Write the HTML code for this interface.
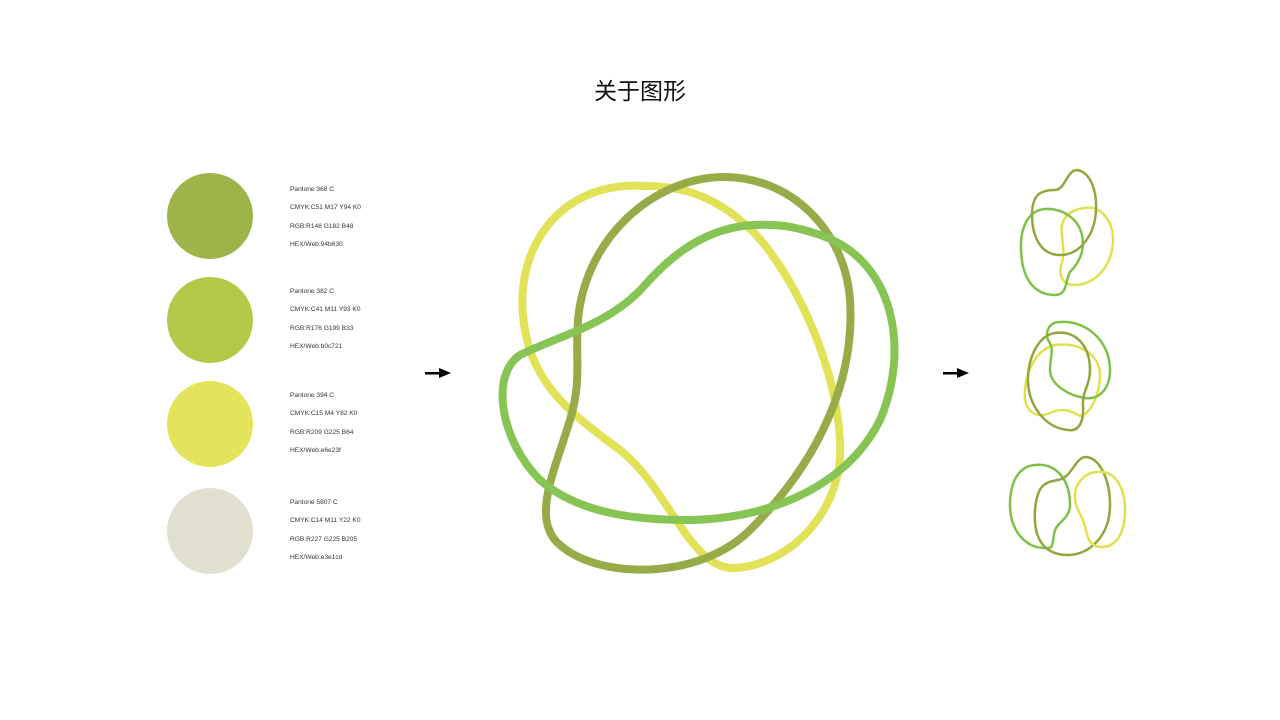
<!DOCTYPE html>
<html><head><meta charset="utf-8"><style>
body{margin:0;width:1280px;height:720px;background:#fff;overflow:hidden;position:relative;font-family:"Liberation Sans","Noto Sans CJK SC",sans-serif}
.t{position:absolute;left:0;width:1280px;top:72px;text-align:center;font-size:23px;color:#111}
.c{position:absolute;left:167px;width:86px;height:86px;border-radius:50%}
.i{position:absolute;left:290px;font-size:6.6px;color:#333;line-height:18.3px}
</style></head><body>
<div class="t">关于图形</div>
<div class="c" style="top:173px;background:#9db548"></div>
<div class="c" style="top:277px;background:#b4c84a"></div>
<div class="c" style="top:381px;background:#e3e35c"></div>
<div class="c" style="top:488px;background:#e2e1cf"></div>
<div class="i" style="top:181px">Pantone 368 C<br>CMYK:C51 M17 Y94 K0<br>RGB:R148 G182 B48<br>HEX/Web:94b630</div>
<div class="i" style="top:283px">Pantone 382 C<br>CMYK:C41 M11 Y93 K0<br>RGB:R176 G199 B33<br>HEX/Web:b0c721</div>
<div class="i" style="top:387px">Pantone 394 C<br>CMYK:C15 M4 Y82 K0<br>RGB:R209 G225 B64<br>HEX/Web:e6e23f</div>
<div class="i" style="top:494px">Pantone 5807 C<br>CMYK:C14 M11 Y22 K0<br>RGB:R227 G225 B205<br>HEX/Web:e3e1cd</div>
<svg width="1280" height="720" style="position:absolute;left:0;top:0">
<g fill="#000"><rect x="425" y="372" width="16" height="2.5"/><path d="M439,368 L451,373 L439,378Z"/>
<rect x="943" y="372" width="16" height="2.5"/><path d="M957,368 L969,373 L957,378Z"/></g>
<g fill="none" stroke-width="8" opacity="0.85">
<path stroke="#dede3c" d="M645,186 C560,180 510,250 525,330 C535,390 580,420 620,450 C670,490 690,570 735,568 C790,565 845,510 840,440 C835,350 780,250 740,220 C710,195 680,186 645,186 Z"/>
<path stroke="#869e2a" d="M720,177 C650,180 585,240 578,320 C575,360 582,380 570,420 C555,470 530,520 560,545 C600,580 700,580 750,530 C820,460 855,380 850,300 C845,230 790,175 720,177 Z"/>
<path stroke="#72ba36" d="M770,225 C720,222 680,245 645,285 C610,325 560,335 520,355 C490,375 500,440 540,480 C580,515 640,520 690,520 C780,518 850,480 880,420 C910,350 895,260 820,235 C800,228 785,225 770,225 Z"/>
</g>
<g fill="none" stroke-width="2.5" opacity="0.9">
<path stroke="#dede3c" d="M1085,208 C1100,205 1113,220 1113,240 C1113,265 1095,285 1075,285 C1062,285 1058,275 1062,262 C1066,250 1060,235 1062,225 C1065,213 1075,209 1085,208Z"/>
<path stroke="#72ba36" d="M1045,209 C1030,210 1020,225 1021,250 C1022,280 1035,295 1055,295 C1068,295 1065,280 1070,272 C1080,262 1085,250 1082,235 C1078,218 1062,208 1045,209Z"/>
<path stroke="#869e2a" d="M1077,170 C1090,172 1097,190 1096,210 C1095,235 1080,255 1060,255 C1040,255 1032,235 1032,215 C1032,195 1040,190 1055,190 C1065,190 1067,170 1077,170Z"/>
<path stroke="#dede3c" d="M1055,345 C1080,342 1100,355 1100,375 C1100,400 1085,420 1078,415 C1070,410 1060,408 1050,413 C1035,420 1023,410 1025,390 C1027,365 1040,348 1055,345Z"/>
<path stroke="#72ba36" d="M1060,322 C1085,320 1110,340 1110,370 C1110,390 1098,400 1085,398 C1070,396 1050,385 1050,370 C1050,355 1055,350 1048,340 C1045,330 1050,322 1060,322Z"/>
<path stroke="#869e2a" d="M1055,333 C1075,330 1090,345 1090,370 C1090,385 1082,392 1083,405 C1084,420 1080,432 1068,430 C1045,428 1028,405 1028,380 C1028,355 1040,335 1055,333Z"/>
<path stroke="#72ba36" d="M1035,465 C1055,463 1070,478 1070,505 C1070,518 1058,522 1055,530 C1052,540 1055,550 1045,548 C1025,548 1010,530 1010,505 C1010,480 1020,466 1035,465Z"/>
<path stroke="#869e2a" d="M1086,457 C1100,458 1110,480 1110,505 C1110,535 1090,555 1068,555 C1045,555 1033,540 1035,510 C1037,485 1045,482 1058,480 C1072,478 1075,457 1086,457Z"/>
<path stroke="#dede3c" d="M1098,472 C1115,470 1125,488 1125,510 C1125,535 1115,548 1100,547 C1085,546 1088,530 1082,518 C1075,505 1072,495 1078,484 C1083,476 1090,472 1098,472Z"/>
</g>
</svg>
</body></html>
